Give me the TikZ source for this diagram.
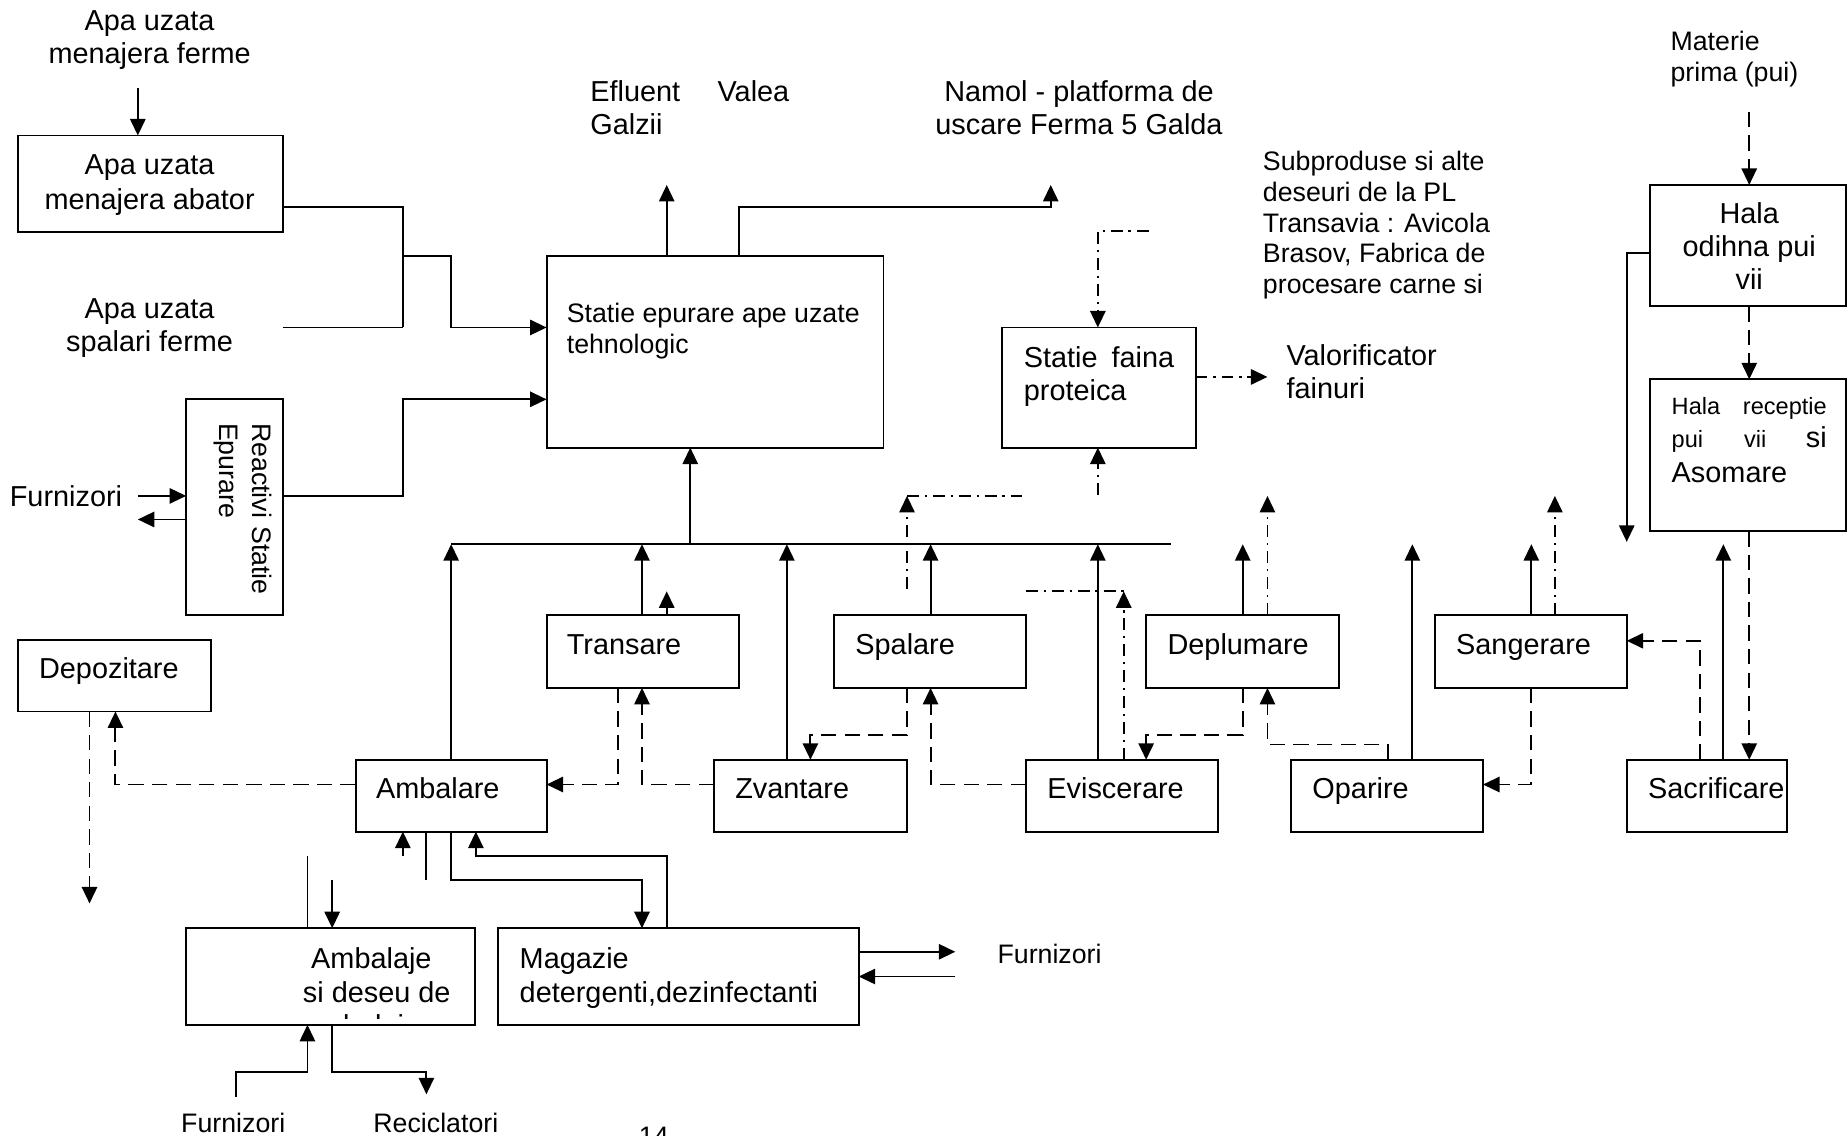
\documentclass[tikz,border=0pt]{standalone}
\usepackage{fontspec}
\setmainfont{Liberation Sans}
\usetikzlibrary{arrows.meta,calc}
\newcommand\fsz[1]{\fontsize{#1}{#1}\selectfont}
\begin{document}
\begin{tikzpicture}[x=1pt,y=-1pt,
  box/.style={draw, line width=1.6pt, inner sep=0pt, outer sep=0pt, anchor=north west},
  ln/.style={line width=1.6pt},
  arr/.style={ln, -{Triangle[length=14pt,width=13pt]}},
  dsh/.style={dash pattern=on 13pt off 7pt},
  dd/.style={dash pattern=on 10pt off 5pt on 2pt off 5pt},
  ta/.style={font=\fsz{24.5}, inner sep=0pt},
  tb/.style={font=\fsz{22.7}, inner sep=0pt},
  tc/.style={font=\fsz{20}, inner sep=0pt}]
\useasboundingbox (0,0) rectangle (1568,964);

% ---------- boxes ----------
\node[box, minimum width=225pt, minimum height=82pt] (abator) at (15,115) {};
\node[box, minimum width=286pt, minimum height=163pt] (statie) at (464,217) {};
\node[box, minimum width=82pt, minimum height=183pt] (reactivi) at (158,339) {};
\node[box, minimum width=164pt, minimum height=102pt] (faina) at (851,278) {};
\node[box, minimum width=166pt, minimum height=103pt] (odihna) at (1401,157) {};
\node[box, minimum width=166pt, minimum height=129pt] (receptie) at (1401,322) {};
\node[box, minimum width=164pt, minimum height=61pt] (depoz) at (15,543) {};
\node[box, minimum width=163pt, minimum height=62pt] (transare) at (464,522) {};
\node[box, minimum width=163pt, minimum height=62pt] (spalare) at (708,522) {};
\node[box, minimum width=164pt, minimum height=62pt] (deplumare) at (973,522) {};
\node[box, minimum width=163pt, minimum height=62pt] (sangerare) at (1218,522) {};
\node[box, minimum width=162pt, minimum height=61pt] (ambalare) at (302,645) {};
\node[box, minimum width=164pt, minimum height=61pt] (zvantare) at (606,645) {};
\node[box, minimum width=163pt, minimum height=61pt] (eviscerare) at (871,645) {};
\node[box, minimum width=163pt, minimum height=61pt] (oparire) at (1096,645) {};
\node[box, minimum width=136pt, minimum height=61pt] (sacrificare) at (1381,645) {};
\node[box, minimum width=245pt, minimum height=82pt] (ambalaje) at (158,788) {};
\node[box, minimum width=306pt, minimum height=82pt] (magazie) at (423,788) {};

% ---------- texts ----------
\node[ta, anchor=base] (t1a) at (127,26) {Apa uzata};
\node[ta, anchor=base] (t1b) at (127,54) {menajera ferme};
\node[ta, anchor=base] (t2a) at (127,148) {Apa uzata};
\node[ta, anchor=base] (t2b) at (127,178) {menajera abator};
\node[ta, anchor=base] (t3a) at (127,270) {Apa uzata};
\node[ta, anchor=base] (t3b) at (127,298) {spalari ferme};
\node[ta, anchor=base west] (t4a) at (501,86) {Efluent};
\node[ta, anchor=base west] (t4b) at (609,86) {Valea};
\node[ta, anchor=base west] (t4c) at (501,114) {Galzii};
\node[ta, anchor=base] (t5a) at (916,86) {Namol - platforma de};
\node[ta, anchor=base] (t5b) at (916,114) {uscare Ferma 5 Galda};
\node[tb, anchor=base west] (t6a) at (481,274) {Statie epurare ape uzate};
\node[tb, anchor=base west] (t6b) at (481,300) {tehnologic};
\node[tb, anchor=base west] (t7a) at (1072,145) {Subproduse si alte};
\node[tb, anchor=base west] (t7b) at (1072,171) {deseuri de la PL};
\node[tb, anchor=base west] (t7c) at (1072,197) {Transavia : Avicola};
\node[tb, anchor=base west] (t7d) at (1072,223) {Brasov, Fabrica de};
\node[tb, anchor=base west] (t7e) at (1072,249) {procesare carne si};
\node[ta, anchor=base west] (t8a) at (869,312) {Statie};
\node[ta, anchor=base east] (t8b) at (997,312) {faina};
\node[ta, anchor=base west] (t8c) at (869,340) {proteica};
\node[ta, anchor=base west] (t9a) at (1092,310) {Valorificator};
\node[ta, anchor=base west] (t9b) at (1092,338) {fainuri};
\node[tb, anchor=base west] (t10a) at (1418,43) {Materie};
\node[tb, anchor=base west] (t10b) at (1418,69) {prima (pui)};
\node[ta, anchor=base] (t11a) at (1485,190) {Hala};
\node[ta, anchor=base] (t11b) at (1485,218) {odihna pui};
\node[ta, anchor=base] (t11c) at (1485,246) {vii};
\node[tc, anchor=base west] (t12a) at (1419,352) {Hala};
\node[tc, anchor=base east] (t12b) at (1551,352) {receptie};
\node[tc, anchor=base west] (t12c) at (1419,380) {pui};
\node[tc, anchor=base] (t12d) at (1490,380) {vii};
\node[ta, anchor=base east] (t12e) at (1551,380) {si};
\node[ta, anchor=base west] (t12f) at (1419,410) {Asomare};
\node[tb, rotate=-90, anchor=base west] (t13a) at (214,359) {Reactivi};
\node[tb, rotate=-90, anchor=base east] (t13b) at (214,505) {Statie};
\node[tb, rotate=-90, anchor=base west] (t13c) at (186,359) {Epurare};
\node[ta, anchor=base] (t14) at (56,430) {Furnizori};
\node[ta, anchor=base west] (t15) at (33,576) {Depozitare};
\node[ta, anchor=base west] (t16) at (481,556) {Transare};
\node[ta, anchor=base west] (t17) at (726,556) {Spalare};
\node[ta, anchor=base west] (t18) at (991,556) {Deplumare};
\node[ta, anchor=base west] (t19) at (1236,556) {Sangerare};
\node[ta, anchor=base west] (t20) at (319,678) {Ambalare};
\node[ta, anchor=base west] (t21) at (624,678) {Zvantare};
\node[ta, anchor=base west] (t22) at (889,678) {Eviscerare};
\node[ta, anchor=base west] (t23) at (1114,678) {Oparire};
\node[ta, anchor=base west] (t24) at (1399,678) {Sacrificare};
\node[ta, anchor=base west] (t25a) at (264,822) {Ambalaje};
\node[ta, anchor=base west] (t25b) at (257,851) {si deseu de};
\begin{scope}
  \clip (158,788) rectangle (403,865);
  \node[ta, anchor=base west] (t25c) at (257,879) {ambalaje};
\end{scope}
\node[ta, anchor=base west] (t26a) at (441,822) {Magazie};
\node[ta, anchor=base west] (t26b) at (441,851) {detergenti,dezinfectanti};
\node[tb, anchor=base] (t27) at (891,818) {Furnizori};
\node[tb, anchor=base] (t28) at (198,961) {Furnizori};
\node[tb, anchor=base] (t29) at (370,961) {Reciclatori};
\node[tb, anchor=north] (t30) at (555,957) {14};

% ---------- free ends ----------
\coordinate (c1) at (117,75);
\coordinate (c2) at (240,278);
\coordinate (c3) at (975,196);
\coordinate (c4) at (932,420);
\coordinate (c5) at (1485,95);
\coordinate (busL) at (383,462);
\coordinate (busR) at (994,462);

% ---------- solid connectors ----------
\draw[arr] (c1) -- (abator.north -| 117,0);
\draw[ln] (abator.east |- 0,176) -- (342,176) -- (342,278);
\draw[ln] (c2) -- (342,278);
\draw[arr] (342,217) -- (383,217) -- (383,278) -- (statie.west |- 0,278);
\draw[arr] (reactivi.east |- 0,421) -- (342,421) -- (342,339) -- (statie.west |- 0,339);
\draw[arr] (117,421) -- (reactivi.west |- 0,421);
\draw[arr] (reactivi.west |- 0,441) -- (117,441);
\draw[arr] (statie.north -| 566,0) -- (566,157);
\draw[arr] (statie.north -| 627,0) -- (627,176) -- (892,176) -- (892,157);
\draw[ln] (busL) -- (busR);
\draw[arr] (busL -| 586,0) -- (statie.south -| 586,0);
\draw[arr] (ambalare.north -| 383,0) -- (busL);
\draw[arr] (transare.north -| 545,0) -- (545,462);
\draw[arr] (transare.north -| 566,0) -- (566,502);
\draw[arr] (zvantare.north -| 668,0) -- (668,462);
\draw[arr] (spalare.north -| 790,0) -- (790,462);
\draw[arr] (eviscerare.north -| 932,0) -- (932,462);
\draw[arr] (deplumare.north -| 1055,0) -- (1055,462);
\draw[arr] (oparire.north -| 1199,0) -- (1199,462);
\draw[arr] (sangerare.north -| 1300,0) -- (1300,462);
\draw[arr] (sacrificare.north -| 1463,0) -- (1463,462);
\draw[arr] (odihna.west |- 0,215) -- (1381,215) -- (1381,460);
% bottom
\draw[arr] (342,727) -- (ambalare.south -| 342,0);
\draw[ln] (ambalare.south -| 362,0) -- (362,747);
\draw[arr] (ambalare.south -| 383,0) -- (383,747) -- (545,747) -- (magazie.north -| 545,0);
\draw[arr] (magazie.north -| 566,0) -- (566,727) -- (404,727) -- (ambalare.south -| 404,0);
\draw[ln] (261,727) -- (ambalaje.north -| 261,0);
\draw[arr] (282,747) -- (ambalaje.north -| 282,0);
\draw[arr] (200,931) -- (200,910) -- (261,910) -- (ambalaje.south -| 261,0);
\draw[arr] (ambalaje.south -| 282,0) -- (282,910) -- (362,910) -- (362,929);
\draw[arr] (magazie.east |- 0,808) -- (811,808);
\draw[arr] (811,829) -- (magazie.east |- 0,829);

% ---------- dashed connectors ----------
\draw[arr,dsh] (c5) -- (odihna.north -| 1485,0);
\draw[arr,dsh] (odihna.south -| 1485,0) -- (receptie.north -| 1485,0);
\draw[arr,dsh] (receptie.south -| 1485,0) -- (sacrificare.north -| 1485,0);
\draw[arr,dsh] (sacrificare.north -| 1443,0) -- (1443,544) -- (sangerare.east |- 0,544);
\draw[arr,dsh] (sangerare.south -| 1300,0) -- (1300,666) -- (oparire.east |- 0,666);
\draw[arr,dsh] (oparire.north -| 1178,0) -- (1178,632) -- (1076,632) -- (deplumare.south -| 1076,0);
\draw[arr,dsh] (deplumare.south -| 1055,0) -- (1055,624) -- (973,624) -- (eviscerare.north -| 973,0);
\draw[arr,dsh] (eviscerare.west |- 0,666) -- (790,666) -- (spalare.south -| 790,0);
\draw[arr,dsh] (spalare.south -| 770,0) -- (770,624) -- (688,624) -- (zvantare.north -| 688,0);
\draw[arr,dsh] (zvantare.west |- 0,666) -- (545,666) -- (transare.south -| 545,0);
\draw[arr,dsh] (transare.south -| 525,0) -- (525,666) -- (ambalare.east |- 0,666);
\draw[arr,dsh] (ambalare.west |- 0,666) -- (98,666) -- (depoz.south -| 98,0);
\draw[arr,dsh] (depoz.south -| 76,0) -- (76,767);

% ---------- dash-dot connectors ----------
\draw[arr,dd] (c3) -- (932,196) -- (faina.north -| 932,0);
\draw[arr,dd] (faina.east |- 0,320) -- (1076,320);
\draw[arr,dd] (c4) -- (faina.south -| 932,0);
\draw[arr,dd] (sangerare.north -| 1320,0) -- (1320,421);
\draw[arr,dd] (deplumare.north -| 1076,0) -- (1076,421);
\draw[arr,dd] (eviscerare.north -| 954,0) -- (954,502);
\draw[ln,dd] (871,502) -- (954,502);
\draw[arr,dd] (770,500) -- (770,421);
\draw[ln,dd] (770,421) -- (870,421);
\end{tikzpicture}
\end{document}
